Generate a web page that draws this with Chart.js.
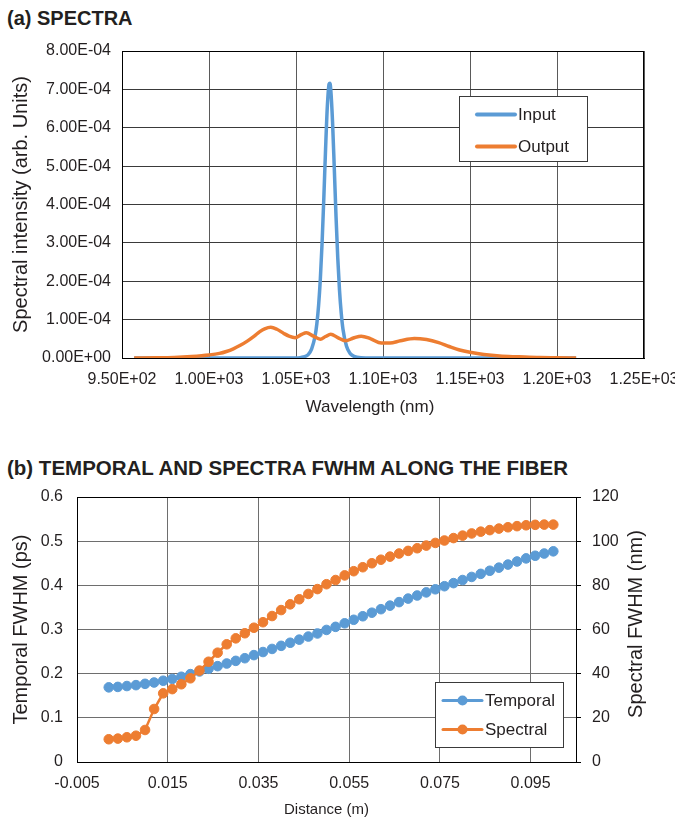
<!DOCTYPE html>
<html><head><meta charset="utf-8">
<script src="https://cdn.jsdelivr.net/npm/chart.js@4"></script>
<style>
body{margin:0;background:#fff;width:675px;height:821px;overflow:hidden;position:relative;font-family:"Liberation Sans",Arial,sans-serif}
.t{position:absolute;left:7px;font-weight:bold;font-size:20px;line-height:20px;color:#231f20;white-space:nowrap}
#c1{position:absolute;left:0;top:0}
#c2{position:absolute;left:0;top:430px}
</style></head><body>
<div class="t" style="top:8px">(a) SPECTRA</div>
<div class="t" style="top:458px;font-size:20.5px">(b) TEMPORAL AND SPECTRA FWHM ALONG THE FIBER</div>
<canvas id="c1" width="675" height="430"></canvas>
<canvas id="c2" width="675" height="391"></canvas>
<script>
// ---------- (a) spectra ----------
const wavelengthTicks = [950, 1000, 1050, 1100, 1150, 1200, 1250];
const intensityTicks = [0, 1e-4, 2e-4, 3e-4, 4e-4, 5e-4, 6e-4, 7e-4, 8e-4];

const inputWavelength = [957, 1000, 1040, 1050, 1053, 1055, 1057, 1059, 1061, 1062, 1063, 1064, 1065, 1066, 1067, 1068, 1069, 1069.5, 1070, 1071, 1072, 1073, 1074, 1075, 1076, 1077, 1079, 1081, 1083, 1085, 1090, 1100, 1150, 1211];
const inputIntensity = [0, 0, 0, 0, 0.016e-4, 0.037e-4, 0.09e-4, 0.24e-4, 0.58e-4, 0.90e-4, 1.38e-4, 2.07e-4, 3.01e-4, 4.18e-4, 5.45e-4, 6.55e-4, 7.14e-4, 7.16e-4, 6.98e-4, 6.16e-4, 4.95e-4, 3.69e-4, 2.61e-4, 1.77e-4, 1.17e-4, 0.75e-4, 0.31e-4, 0.125e-4, 0.05e-4, 0.02e-4, 0, 0, 0, 0];

const outputWavelength = [957, 970, 980, 990, 1000, 1006, 1010, 1014, 1018, 1022, 1026, 1029, 1032, 1035.5, 1039, 1043, 1046, 1049.5, 1053, 1056, 1060, 1064, 1067, 1070, 1074, 1078.5, 1083, 1087.5, 1093, 1099, 1104, 1110, 1118, 1125, 1132, 1138, 1144, 1150, 1158, 1167, 1178, 1190, 1200, 1211];
const outputIntensity = [0, 0.005e-4, 0.015e-4, 0.04e-4, 0.08e-4, 0.12e-4, 0.17e-4, 0.24e-4, 0.33e-4, 0.44e-4, 0.57e-4, 0.68e-4, 0.76e-4, 0.80e-4, 0.75e-4, 0.64e-4, 0.57e-4, 0.53e-4, 0.61e-4, 0.66e-4, 0.57e-4, 0.49e-4, 0.56e-4, 0.62e-4, 0.53e-4, 0.45e-4, 0.52e-4, 0.57e-4, 0.50e-4, 0.39e-4, 0.39e-4, 0.45e-4, 0.51e-4, 0.48e-4, 0.40e-4, 0.30e-4, 0.21e-4, 0.15e-4, 0.09e-4, 0.05e-4, 0.03e-4, 0.01e-4, 0.005e-4, 0];

// ---------- (b) FWHM ----------
const distanceTicks = [-0.005, 0.015, 0.035, 0.055, 0.075, 0.095];
const temporalTicks = [0, 0.1, 0.2, 0.3, 0.4, 0.5, 0.6];
const spectralTicks = [0, 20, 40, 60, 80, 100, 120];

const distance = [0.002, 0.004, 0.006, 0.008, 0.010, 0.012, 0.014, 0.016, 0.018, 0.020, 0.022, 0.024, 0.026, 0.028, 0.030, 0.032, 0.034, 0.036, 0.038, 0.040, 0.042, 0.044, 0.046, 0.048, 0.050, 0.052, 0.054, 0.056, 0.058, 0.060, 0.062, 0.064, 0.066, 0.068, 0.070, 0.072, 0.074, 0.076, 0.078, 0.080, 0.082, 0.084, 0.086, 0.088, 0.090, 0.092, 0.094, 0.096, 0.098, 0.100];
const temporalFWHM = [0.169, 0.170, 0.172, 0.174, 0.177, 0.180, 0.184, 0.188, 0.193, 0.199, 0.205, 0.211, 0.217, 0.223, 0.229, 0.235, 0.242, 0.249, 0.256, 0.263, 0.270, 0.277, 0.284, 0.291, 0.299, 0.306, 0.314, 0.322, 0.330, 0.338, 0.346, 0.354, 0.362, 0.370, 0.377, 0.384, 0.391, 0.398, 0.405, 0.412, 0.419, 0.426, 0.433, 0.440, 0.447, 0.454, 0.461, 0.467, 0.472, 0.477];
const spectralFWHM = [10.3, 10.6, 11.2, 11.9, 14.5, 24.0, 31.1, 33.0, 35.2, 37.9, 41.4, 45.4, 49.5, 53.3, 56.0, 58.3, 60.8, 63.3, 66.1, 68.8, 71.4, 73.7, 76.1, 78.3, 80.5, 82.4, 84.5, 86.4, 88.2, 90.0, 91.6, 93.0, 94.4, 95.6, 96.8, 98.0, 99.2, 100.3, 101.4, 102.5, 103.5, 104.3, 105.0, 105.7, 106.3, 106.8, 107.2, 107.4, 107.5, 107.5];

const BLUE = '#5B9BD5', ORANGE = '#ED7D31', TXT = '#231f20';
const FONT = '"Liberation Sans", Arial, sans-serif';
Chart.defaults.font.family = FONT;
Chart.defaults.color = TXT;

function fmtE(v) {
  const parts = Number(v).toExponential(2).split('e');
  const sign = parts[1][0];
  const digits = parts[1].slice(1).padStart(2, '0');
  return parts[0] + 'E' + sign + digits;
}
const setTicks = arr => axis => { axis.ticks = arr.map(v => ({ value: v })); };

function framePlugin(sides) {
  return { id: 'frame', beforeDatasetsDraw(chart) {
    const a = chart.chartArea, c = chart.ctx;
    c.save(); c.strokeStyle = '#000'; c.lineWidth = 1; c.beginPath();
    if (sides.includes('top')) { c.moveTo(a.left, Math.round(a.top) + 0.5); c.lineTo(a.right, Math.round(a.top) + 0.5); }
    if (sides.includes('right')) { c.moveTo(Math.round(a.right) - 0.5, a.top); c.lineTo(Math.round(a.right) - 0.5, a.bottom); }
    c.stroke(); c.restore();
  } };
}

function textPlugin(id, text, x, y, size, rot) {
  return { id, afterDraw(chart) {
    const c = chart.ctx;
    c.save(); c.translate(x, y); if (rot) c.rotate(rot);
    c.fillStyle = TXT; c.font = size + 'px ' + FONT; c.textAlign = 'center'; c.textBaseline = 'middle';
    c.fillText(text, 0, 0); c.restore();
  } };
}

function legendPlugin(box, rows, lineX0, lineX1, textX, lineW, marker) {
  return { id: 'customLegend', afterDraw(chart) {
    const c = chart.ctx;
    c.save();
    c.fillStyle = '#fff';
    c.fillRect(box.x, box.y, box.w, box.h);
    c.strokeStyle = '#3a3a3a'; c.lineWidth = 1;
    c.strokeRect(box.x + 0.5, box.y + 0.5, box.w, box.h);
    rows.forEach(r => {
      const ds = chart.data.datasets[r.ds];
      c.strokeStyle = ds.borderColor; c.lineWidth = lineW; c.lineCap = 'round';
      c.beginPath(); c.moveTo(lineX0, r.y); c.lineTo(lineX1, r.y); c.stroke();
      if (marker) {
        c.fillStyle = ds.borderColor;
        c.beginPath(); c.arc((lineX0 + lineX1) / 2, r.y, marker, 0, Math.PI * 2); c.fill();
      }
      c.fillStyle = TXT; c.font = '17px ' + FONT; c.textBaseline = 'middle'; c.textAlign = 'left';
      c.fillText(ds.label, textX, r.y + 1);
    });
    c.restore();
  } };
}

new Chart(document.getElementById('c1'), {
  type: 'line',
  data: { datasets: [
    { label: 'Input', data: inputWavelength.map((x, i) => ({ x, y: inputIntensity[i] })), borderColor: BLUE, backgroundColor: BLUE, borderWidth: 3.5, pointRadius: 0, cubicInterpolationMode: 'monotone', order: 1 },
    { label: 'Output', data: outputWavelength.map((x, i) => ({ x, y: outputIntensity[i] })), borderColor: ORANGE, backgroundColor: ORANGE, borderWidth: 3.5, pointRadius: 0, cubicInterpolationMode: 'monotone', order: 0 }
  ] },
  options: {
    responsive: false, animation: false, devicePixelRatio: 1,
    layout: { padding: { left: 0, top: 51, right: 31, bottom: 13 } },
    plugins: { legend: { display: false }, tooltip: { enabled: false } },
    scales: {
      x: {
        type: 'linear', min: 950, max: 1250,
        afterBuildTicks: setTicks(wavelengthTicks),
        afterFit: a => { a.height = 59; a.paddingLeft = 0; a.paddingRight = 0; },
        ticks: { callback: v => fmtE(v), font: { size: 16 }, color: TXT, padding: 12, maxRotation: 0, autoSkip: false },
        grid: { color: '#5a5a5a', drawTicks: false },
        border: { color: '#000', width: 1 },
        title: { display: false }
      },
      y: {
        type: 'linear', min: 0, max: 8e-4,
        afterBuildTicks: setTicks(intensityTicks),
        afterFit: a => { a.width = 122; },
        ticks: { callback: v => fmtE(v), font: { size: 16 }, color: TXT, padding: 11 },
        grid: { color: '#3a3a3a', drawTicks: false },
        border: { color: '#000', width: 1 },
        title: { display: true, text: 'Spectral intensity (arb. Units)', font: { size: 20 }, color: TXT, padding: { top: 9, bottom: 0 } }
      }
    }
  },
  plugins: [framePlugin(['top', 'right']), textPlugin('xTitle', 'Wavelength (nm)', 370, 407, 17, 0),
            legendPlugin({ x: 459, y: 96, w: 128, h: 65 }, [{ ds: 0, y: 114.5 }, { ds: 1, y: 146.5 }], 477, 515, 518, 4, 0)]
});

new Chart(document.getElementById('c2'), {
  type: 'line',
  data: { datasets: [
    { label: 'Temporal', data: distance.map((x, i) => ({ x, y: temporalFWHM[i] })), yAxisID: 'y', borderColor: BLUE, backgroundColor: BLUE, borderWidth: 2.5, pointRadius: 4.8, pointBorderWidth: 1, pointBorderColor: BLUE, pointBackgroundColor: BLUE, order: 1 },
    { label: 'Spectral', data: distance.map((x, i) => ({ x, y: spectralFWHM[i] })), yAxisID: 'y2', borderColor: ORANGE, backgroundColor: ORANGE, borderWidth: 2.5, pointRadius: 4.8, pointBorderWidth: 1, pointBorderColor: ORANGE, pointBackgroundColor: ORANGE, order: 0 }
  ] },
  options: {
    responsive: false, animation: false, devicePixelRatio: 1,
    layout: { padding: { left: 0, top: 67, right: 0, bottom: 2 } },
    plugins: { legend: { display: false }, tooltip: { enabled: false } },
    scales: {
      x: {
        type: 'linear', min: -0.005, max: 0.105,
        afterBuildTicks: setTicks(distanceTicks),
        afterFit: a => { a.height = 57; a.paddingLeft = 0; a.paddingRight = 0; },
        ticks: { callback: v => Number(v).toFixed(3), font: { size: 16 }, color: TXT, padding: 12, maxRotation: 0, autoSkip: false },
        grid: { color: '#6e6e6e', drawTicks: false },
        border: { color: '#000', width: 1 },
        title: { display: true, text: 'Distance (m)', font: { size: 15 }, color: TXT, padding: { top: 0, bottom: 0 } }
      },
      y: {
        type: 'linear', position: 'left', min: 0, max: 0.6,
        afterBuildTicks: setTicks(temporalTicks),
        afterFit: a => { a.width = 77; },
        ticks: { callback: v => v === 0 ? '0' : Number(v).toFixed(1), font: { size: 16 }, color: TXT, padding: 14 },
        grid: { color: '#6e6e6e', drawTicks: false },
        border: { color: '#000', width: 1 },
        title: { display: true, text: 'Temporal FWHM (ps)', font: { size: 20 }, color: TXT, padding: { top: 9, bottom: 0 } }
      },
      y2: {
        type: 'linear', position: 'right', min: 0, max: 120,
        afterBuildTicks: setTicks(spectralTicks),
        afterFit: a => { a.width = 99; },
        ticks: { callback: v => String(v), font: { size: 16 }, color: TXT, padding: 11 },
        grid: { drawOnChartArea: false, drawTicks: true, tickLength: 5, tickColor: '#000' },
        border: { color: '#000', width: 1 },
        title: { display: false }
      }
    }
  },
  plugins: [framePlugin(['top']), textPlugin('rightTitle', 'Spectral FWHM (nm)', 636, 194, 20, -Math.PI / 2),
            legendPlugin({ x: 435, y: 252, w: 128, h: 65 }, [{ ds: 0, y: 270.5 }, { ds: 1, y: 299.5 }], 443, 482, 485, 3, 5)]
});
</script>
</body></html>
